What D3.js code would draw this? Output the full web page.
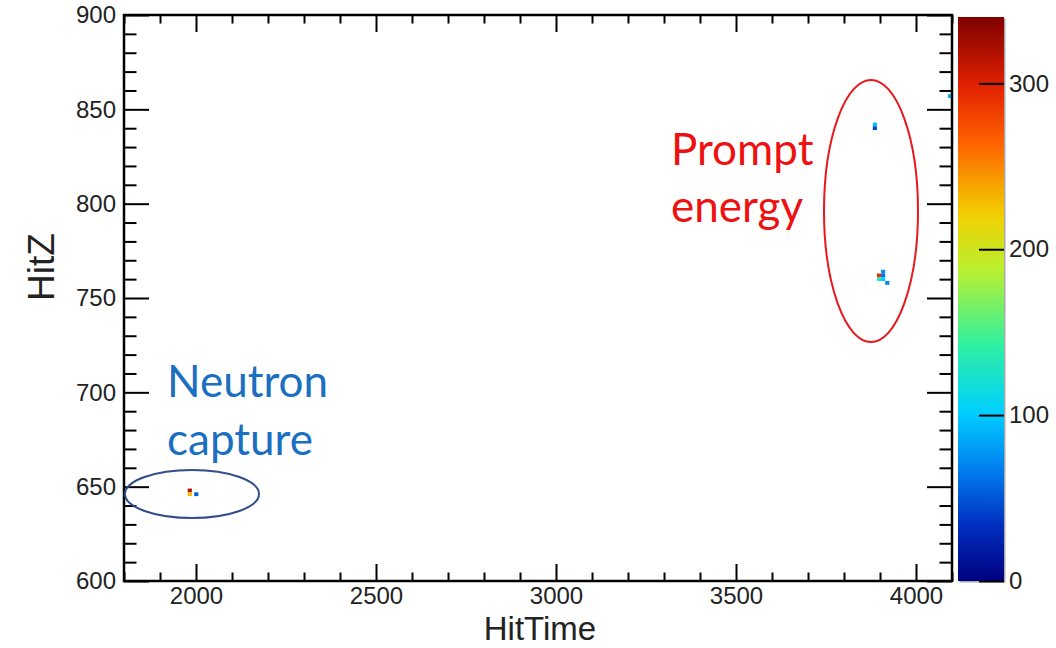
<!DOCTYPE html>
<html>
<head>
<meta charset="utf-8">
<script src="https://cdn.jsdelivr.net/npm/d3@7"></script>
<style>
  body { margin: 0; background: #fff; }
  svg text { font-family: "Liberation Sans", Arial, sans-serif; }
</style>
</head>
<body>
<svg id="chart" width="1056" height="648"></svg>
<script>
// histogram bins (HitTime, HitZ lower edges) and their contents
var binTime = [3880, 3880, 3903, 3891.5, 3903, 3891.5, 3903, 3914.5, 1977, 1977, 1995, 4088.5];
var binZ    = [841,  839,  763,  761,    761,  759,    759,  757,    647,  645,  645,  856];
var binVal  = [95,   45,   75,   290,    60,   130,    100,  70,     320,  230,  55,   90];
var binW = 11.5, binH = 2;

var xTicks = [2000, 2500, 3000, 3500, 4000];
var yTicks = [600, 650, 700, 750, 800, 850, 900];
var zTicks = [0, 100, 200, 300];

// ROOT-like rainbow palette
var palPos = [0, 0.1, 0.2, 0.3, 0.42, 0.55, 0.65, 0.78, 0.88, 1];
var palCol = ["#000080", "#0030c0", "#0080f0", "#00d0ff", "#30f0a0", "#b8f030", "#f2d000", "#ff6000", "#e02000", "#7f0000"];

var svg = d3.select("#chart");
var pL = 124, pR = 952, pT = 15, pB = 581;

var x = d3.scaleLinear().domain([1800, 4100]).range([pL, pR]);
var y = d3.scaleLinear().domain([600, 900]).range([pB, pT]);
var zMax = 340;
var z = d3.scaleLinear().domain([0, zMax]).range([pB, 17]);
var color = d3.scaleLinear().domain(palPos.map(function(p){ return p * zMax; })).range(palCol);

// cells
svg.append("g").selectAll("rect")
  .data(binTime.map(function(t, i){ return {t: t, z: binZ[i], v: binVal[i]}; }))
  .enter().append("rect")
  .attr("x", function(d){ return x(d.t); })
  .attr("y", function(d){ return y(d.z + binH); })
  .attr("width", function(d){ return Math.min(x(d.t + binW), pR) - x(d.t); })
  .attr("height", function(d){ return y(d.z) - y(d.z + binH); })
  .attr("fill", function(d){ return color(d.v); });

function minors(lo, hi, step, majors) {
  return d3.range(lo, hi + 0.001, step).filter(function(v){ return majors.indexOf(v) < 0; });
}
var xMinor = minors(1800, 4100, 100, xTicks);
var yMinor = minors(600, 900, 10, yTicks);
var fmt = d3.format("d");

function styleAxis(g) {
  g.selectAll("line").attr("stroke", "#000").attr("stroke-width", 2);
  g.select(".domain").remove();
  g.selectAll("text").attr("fill", "#222").attr("font-size", 24);
}

// bottom
svg.append("g").attr("transform", "translate(0," + pB + ")")
  .call(d3.axisBottom(x).tickValues(xTicks).tickFormat(fmt).tickSizeInner(-17).tickSizeOuter(0).tickPadding(6))
  .call(styleAxis);
svg.append("g").attr("transform", "translate(0," + pB + ")")
  .call(d3.axisBottom(x).tickValues(xMinor).tickFormat("").tickSizeInner(-8.5).tickSizeOuter(0))
  .call(styleAxis);
// top
svg.append("g").attr("transform", "translate(0," + pT + ")")
  .call(d3.axisTop(x).tickValues(xTicks).tickFormat("").tickSizeInner(-17).tickSizeOuter(0))
  .call(styleAxis);
svg.append("g").attr("transform", "translate(0," + pT + ")")
  .call(d3.axisTop(x).tickValues(xMinor).tickFormat("").tickSizeInner(-8.5).tickSizeOuter(0))
  .call(styleAxis);
// left
svg.append("g").attr("transform", "translate(" + pL + ",0)")
  .call(d3.axisLeft(y).tickValues(yTicks).tickFormat(fmt).tickSizeInner(-25).tickSizeOuter(0).tickPadding(8))
  .call(styleAxis);
svg.append("g").attr("transform", "translate(" + pL + ",0)")
  .call(d3.axisLeft(y).tickValues(yMinor).tickFormat("").tickSizeInner(-12.5).tickSizeOuter(0))
  .call(styleAxis);
// right
svg.append("g").attr("transform", "translate(" + pR + ",0)")
  .call(d3.axisRight(y).tickValues(yTicks).tickFormat("").tickSizeInner(-25).tickSizeOuter(0))
  .call(styleAxis);
svg.append("g").attr("transform", "translate(" + pR + ",0)")
  .call(d3.axisRight(y).tickValues(yMinor).tickFormat("").tickSizeInner(-12.5).tickSizeOuter(0))
  .call(styleAxis);

// frame
svg.append("rect").attr("x", pL).attr("y", pT)
  .attr("width", pR - pL).attr("height", pB - pT)
  .attr("fill", "none").attr("stroke", "#000").attr("stroke-width", 2.5);

// axis titles
svg.append("text").attr("x", 540).attr("y", 640).attr("text-anchor", "middle")
  .attr("font-size", 33).attr("fill", "#222").text("HitTime");
svg.append("text").attr("transform", "translate(54,267) rotate(-90)").attr("text-anchor", "middle")
  .attr("font-size", 37).attr("fill", "#222").text("HitZ");

// colour bar
var cbX = 958, cbW = 46;
var grad = svg.append("defs").append("linearGradient").attr("id", "pal")
  .attr("x1", 0).attr("y1", 1).attr("x2", 0).attr("y2", 0);
grad.selectAll("stop").data(d3.range(0, 1.0001, 0.02)).enter().append("stop")
  .attr("offset", function(d){ return d; })
  .attr("stop-color", function(d){ return color(d * zMax); });
svg.append("rect").attr("x", cbX + 1.5).attr("y", 18.5).attr("width", cbW).attr("height", pB - 17)
  .attr("fill", "#aaa");
svg.append("rect").attr("x", cbX).attr("y", 17).attr("width", cbW).attr("height", pB - 17)
  .attr("fill", "url(#pal)");
svg.append("g").attr("transform", "translate(" + (cbX + cbW) + ",0)")
  .call(d3.axisRight(z).tickValues(zTicks).tickSizeInner(-25).tickSizeOuter(0).tickPadding(5))
  .call(styleAxis);

// annotations
svg.append("ellipse").attr("cx", 871).attr("cy", 211).attr("rx", 47).attr("ry", 131)
  .attr("fill", "none").attr("stroke", "#e8181c").attr("stroke-width", 2);
svg.append("ellipse").attr("cx", 192).attr("cy", 494).attr("rx", 67).attr("ry", 24)
  .attr("fill", "none").attr("stroke", "#2f4e8a").attr("stroke-width", 2);

var ann = svg.append("g").attr("font-size", 44);
ann.append("text").attr("x", 671).attr("y", 165).attr("fill", "#ee1111")
  .style("font-family", "Lato, sans-serif").text("Prompt");
ann.append("text").attr("x", 671).attr("y", 222).attr("fill", "#ee1111")
  .style("font-family", "Lato, sans-serif").text("energy");
ann.append("text").attr("x", 167).attr("y", 397).attr("fill", "#1a6fc0")
  .style("font-family", "Lato, sans-serif").text("Neutron");
ann.append("text").attr("x", 167).attr("y", 455).attr("fill", "#1a6fc0")
  .style("font-family", "Lato, sans-serif").text("capture");
</script>
</body>
</html>
